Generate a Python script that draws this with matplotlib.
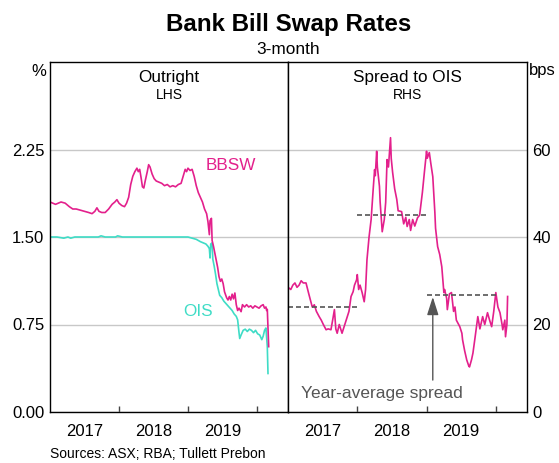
import matplotlib
matplotlib.use("Agg")
import matplotlib.pyplot as plt

plt.rcParams['font.family'] = ['Liberation Sans', 'DejaVu Sans']

PINK = "#e3208c"
TEAL = "#3fdcc6"
GREY = "#555555"

# 3-month BBSW, per cent (decimal year)
bbsw_year = [2017.00, 2017.04, 2017.08, 2017.12, 2017.16, 2017.22, 2017.28, 2017.33, 2017.38, 2017.44,
             2017.50, 2017.56, 2017.61, 2017.65, 2017.68, 2017.71, 2017.75, 2017.80, 2017.85, 2017.90,
             2017.94, 2017.97, 2018.00, 2018.04, 2018.08, 2018.11, 2018.14, 2018.17, 2018.20, 2018.23,
             2018.26, 2018.28, 2018.30, 2018.32, 2018.34, 2018.36, 2018.38, 2018.41, 2018.43, 2018.45,
             2018.48, 2018.51, 2018.54, 2018.58, 2018.62, 2018.66, 2018.70, 2018.74, 2018.78, 2018.82,
             2018.86, 2018.90, 2018.93, 2018.96, 2018.98, 2019.00, 2019.03, 2019.06, 2019.09, 2019.12,
             2019.15, 2019.18, 2019.21, 2019.24, 2019.27, 2019.29, 2019.31, 2019.32, 2019.34, 2019.35,
             2019.37, 2019.39, 2019.41, 2019.43, 2019.45, 2019.47, 2019.49, 2019.51, 2019.53, 2019.56,
             2019.58, 2019.60, 2019.62, 2019.64, 2019.66, 2019.68, 2019.70, 2019.72, 2019.74, 2019.77,
             2019.79, 2019.82, 2019.85, 2019.88, 2019.91, 2019.94, 2019.97, 2020.00, 2020.03, 2020.06,
             2020.09, 2020.11, 2020.13, 2020.14, 2020.15, 2020.16, 2020.17]
bbsw_val = [1.80, 1.79, 1.78, 1.79, 1.80, 1.79, 1.76, 1.74, 1.74, 1.73,
            1.72, 1.71, 1.70, 1.72, 1.75, 1.72, 1.71, 1.71, 1.74, 1.78,
            1.80, 1.82, 1.79, 1.77, 1.76, 1.79, 1.84, 1.95, 2.02, 2.06,
            2.09, 2.06, 2.08, 2.01, 1.93, 1.92, 1.98, 2.06, 2.12, 2.10,
            2.04, 2.00, 1.98, 1.97, 1.96, 1.94, 1.95, 1.93, 1.94, 1.93,
            1.95, 1.96, 2.02, 2.08, 2.06, 2.09, 2.07, 2.08, 2.02, 1.94,
            1.88, 1.84, 1.80, 1.74, 1.70, 1.63, 1.52, 1.64, 1.66, 1.47,
            1.42, 1.36, 1.30, 1.24, 1.16, 1.12, 1.14, 1.10, 1.03, 0.98,
            0.96, 0.99, 0.96, 1.01, 0.97, 1.02, 0.92, 0.87, 0.89, 0.86,
            0.92, 0.90, 0.92, 0.90, 0.91, 0.89, 0.91, 0.90, 0.89, 0.91,
            0.92, 0.89, 0.90, 0.87, 0.88, 0.72, 0.56]

# 3-month OIS, per cent
ois_year = [2017.00, 2017.10, 2017.20, 2017.26, 2017.30, 2017.36, 2017.50, 2017.70, 2017.74, 2017.80,
            2017.95, 2017.98, 2018.05, 2018.30, 2018.60, 2018.90, 2019.00, 2019.06, 2019.12, 2019.18,
            2019.22, 2019.26, 2019.29, 2019.31, 2019.32, 2019.33, 2019.35, 2019.36, 2019.38, 2019.40,
            2019.42, 2019.44, 2019.46, 2019.49, 2019.52, 2019.55, 2019.58, 2019.61, 2019.64, 2019.67,
            2019.70, 2019.72, 2019.74, 2019.75, 2019.77, 2019.80, 2019.83, 2019.86, 2019.89, 2019.92,
            2019.95, 2019.98, 2020.01, 2020.04, 2020.07, 2020.09, 2020.11, 2020.13, 2020.15, 2020.16]
ois_val = [1.50, 1.50, 1.49, 1.50, 1.49, 1.50, 1.50, 1.50, 1.51, 1.50,
           1.50, 1.51, 1.50, 1.50, 1.50, 1.50, 1.50, 1.49, 1.48, 1.46,
           1.45, 1.44, 1.42, 1.40, 1.32, 1.44, 1.45, 1.31, 1.25, 1.18,
           1.10, 1.05, 1.00, 0.98, 0.95, 0.93, 0.91, 0.89, 0.87, 0.84,
           0.82, 0.79, 0.68, 0.63, 0.66, 0.70, 0.71, 0.69, 0.71, 0.70,
           0.68, 0.70, 0.67, 0.66, 0.62, 0.65, 0.70, 0.72, 0.56, 0.33]

# BBSW - OIS spread, bps
spr_year = [2017.00, 2017.04, 2017.07, 2017.10, 2017.13, 2017.16, 2017.19, 2017.22, 2017.26, 2017.30,
            2017.35, 2017.38, 2017.41, 2017.45, 2017.48, 2017.51, 2017.55, 2017.58, 2017.62, 2017.65,
            2017.67, 2017.69, 2017.71, 2017.74, 2017.78, 2017.81, 2017.84, 2017.88, 2017.91, 2017.94,
            2017.96, 2017.99, 2018.00, 2018.02, 2018.04, 2018.07, 2018.10, 2018.12, 2018.14, 2018.17,
            2018.20, 2018.23, 2018.25, 2018.26, 2018.28, 2018.29, 2018.32, 2018.33, 2018.36, 2018.39,
            2018.41, 2018.43, 2018.45, 2018.48, 2018.49, 2018.51, 2018.54, 2018.57, 2018.59, 2018.64,
            2018.67, 2018.70, 2018.72, 2018.75, 2018.77, 2018.80, 2018.83, 2018.87, 2018.90, 2018.94,
            2018.97, 2019.00, 2019.01, 2019.04, 2019.06, 2019.09, 2019.12, 2019.13, 2019.16, 2019.19,
            2019.22, 2019.25, 2019.26, 2019.29, 2019.30, 2019.33, 2019.36, 2019.39, 2019.41, 2019.43,
            2019.48, 2019.51, 2019.52, 2019.55, 2019.58, 2019.61, 2019.62, 2019.65, 2019.67, 2019.70,
            2019.74, 2019.77, 2019.81, 2019.84, 2019.88, 2019.91, 2019.94, 2019.97, 2020.00, 2020.03,
            2020.06, 2020.09, 2020.10, 2020.13, 2020.14, 2020.16, 2020.17]
spr_val = [28.5, 28.0, 29.0, 29.5, 28.5, 29.0, 30.0, 29.5, 29.5, 27.0,
           24.0, 24.5, 23.0, 21.8, 21.0, 20.0, 18.8, 19.0, 18.8, 21.5,
           23.4, 19.0, 18.0, 20.0, 18.0, 19.5, 21.0, 23.0, 26.4, 27.5,
           29.0, 30.2, 31.4, 28.0, 29.0, 27.3, 25.2, 28.0, 34.8, 40.0,
           44.0, 51.0, 55.4, 54.0, 59.6, 56.0, 51.6, 48.0, 41.2, 44.0,
           47.9, 57.7, 56.0, 62.7, 58.0, 54.8, 51.0, 48.6, 46.0, 45.8,
           43.0, 44.5, 42.4, 44.0, 41.5, 44.0, 42.5, 44.4, 45.0, 50.2,
           55.0, 59.6, 58.0, 59.3, 57.0, 53.8, 45.6, 42.0, 37.8, 36.0,
           33.2, 27.3, 28.0, 26.0, 23.4, 27.0, 27.3, 23.0, 24.0, 21.0,
           19.5, 18.0, 16.5, 14.0, 11.9, 10.5, 10.3, 12.0, 13.5, 17.0,
           21.8, 19.0, 21.8, 20.0, 22.7, 21.0, 19.5, 23.0, 27.3, 24.0,
           22.7, 20.0, 18.8, 21.0, 17.2, 20.0, 26.4]

# year-average spread, bps
avg_start = [2017, 2018, 2019]
avg_end = [2018, 2019, 2020]
avg_val = [24.0, 45.1, 26.8]

year_labels = ["2017", "2018", "2019"]
lhs_ticks = [0, 0.75, 1.5, 2.25]
lhs_labels = ["0.00", "0.75", "1.50", "2.25"]
rhs_ticks = [0, 20, 40, 60]
rhs_labels = ["0", "20", "40", "60"]

W, H = 559, 463
fig = plt.figure(figsize=(W / 100, H / 100), dpi=100)
bot = (H - 412) / H
hgt = (412 - 62) / H
ax1 = fig.add_axes([50 / W, bot, (288 - 50) / W, hgt])
ax2 = fig.add_axes([288 / W, bot, (527 - 288) / W, hgt])

XMIN, XMAX = 2017.0, 2020.45


def _style(ax):
    ax.set_xlim(XMIN, XMAX)
    ax.set_xticks([2018, 2019, 2020])
    ax.set_xticklabels([])
    ax.set_xticks([2017.5, 2018.5, 2019.5], minor=True)
    ax.set_xticklabels(year_labels, minor=True, fontsize=12)
    ax.tick_params(axis="x", which="major", direction="in", length=4, width=1, color="#444444")
    ax.tick_params(axis="x", which="minor", length=0, pad=9)
    ax.tick_params(axis="y", length=0, labelsize=12, pad=4)
    ax.grid(axis="y", color="#c8c8c8", lw=1)
    ax.set_axisbelow(True)
    for s in ax.spines.values():
        s.set_linewidth(1)
        s.set_color("black")


# left panel: outright
_style(ax1)
ax1.set_ylim(0, 3)
ax1.set_yticks(lhs_ticks)
ax1.set_yticklabels(lhs_labels)
ax1.plot(ois_year, ois_val, color=TEAL, lw=1.2)
ax1.plot(bbsw_year, bbsw_val, color=PINK, lw=1.2)
ax1.text(2019.25, 2.11, "BBSW", color=PINK, fontsize=12.3, ha="left", va="center")
ax1.text(2018.93, 0.865, "OIS", color=TEAL, fontsize=12.3, ha="left", va="center")
ax1.text(0.5, 0.955, "Outright", transform=ax1.transAxes, ha="center", va="center", fontsize=12.3)
ax1.text(0.5, 0.905, "LHS", transform=ax1.transAxes, ha="center", va="center", fontsize=10)

# right panel: spread to OIS
_style(ax2)
ax2.set_ylim(0, 80)
ax2.set_yticks(rhs_ticks)
ax2.set_yticklabels(rhs_labels)
ax2.yaxis.tick_right()
ax2.plot(spr_year, spr_val, color=PINK, lw=1.2)
for a, b, v in zip(avg_start, avg_end, avg_val):
    ax2.plot([a, b], [v, v], color=GREY, lw=1.2, linestyle=(0, (3.0, 1.8)))
ax2.annotate("", xy=(2019.09, 26.3), xytext=(2019.09, 7.3),
             arrowprops=dict(arrowstyle="-|>,head_length=1.1,head_width=0.35",
                             color=GREY, lw=1.0, shrinkA=0, shrinkB=0))
ax2.text(2017.19, 4.3, "Year-average spread", color=GREY, fontsize=12.5, ha="left", va="center")
ax2.text(0.5, 0.955, "Spread to OIS", transform=ax2.transAxes, ha="center", va="center", fontsize=12.3)
ax2.text(0.5, 0.905, "RHS", transform=ax2.transAxes, ha="center", va="center", fontsize=10)

# titles and units
fig.text(288.5 / W, 1 - 24 / H, "Bank Bill Swap Rates", ha="center", va="center",
         fontsize=17.4, fontweight="bold")
fig.text(288.5 / W, 1 - 49 / H, "3-month", ha="center", va="center", fontsize=12.4)
fig.text(39 / W, 1 - 71 / H, "%", ha="center", va="center", fontsize=12)
fig.text(529 / W, 1 - 70 / H, "bps", ha="left", va="center", fontsize=12)
fig.text(50 / W, 1 - 461.5 / H, "Sources: ASX; RBA; Tullett Prebon", ha="left", va="bottom", fontsize=10)

fig.savefig("out.png", dpi=100)
